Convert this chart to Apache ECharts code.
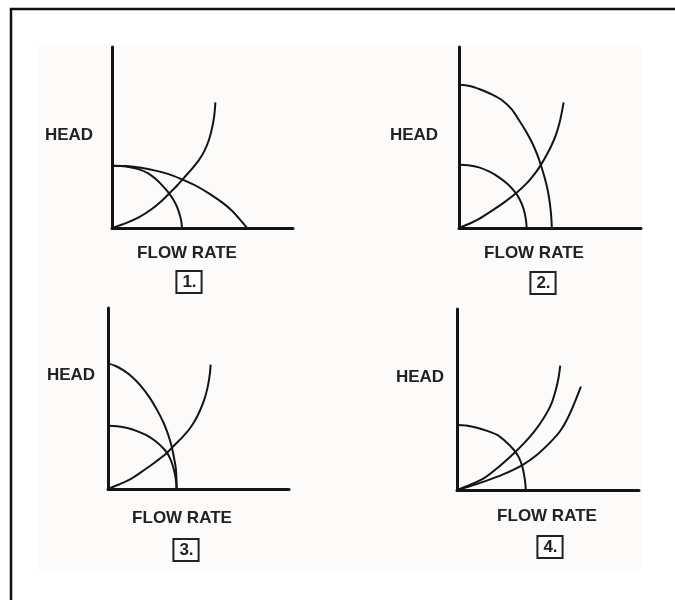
<!DOCTYPE html>
<html>
<head>
<meta charset="utf-8">
<script src="https://cdn.jsdelivr.net/npm/echarts@6/dist/echarts.min.js"></script>
<style>html,body{margin:0;padding:0;background:#fff;}#c{width:675px;height:600px;}</style>
</head>
<body>
<div id="c"></div>
<script>
// ---- data (axes 0..10 in both directions) ----
const yAxisLabel = 'HEAD';
const xAxisLabel = 'FLOW RATE';
const panelNumbers = ['1.', '2.', '3.', '4.'];

const p1PumpA  = [[0,3.44],[0.5,3.42],[1.0,3.36],[1.5,3.24],[2.0,3.02],[2.4,2.72],[2.8,2.33],[3.1,1.98],[3.4,1.55],[3.6,1.15],[3.75,0.7],[3.83,0.35],[3.87,0]];
const p1PumpB  = [[0,3.44],[0.8,3.42],[1.6,3.33],[2.4,3.17],[3.2,2.95],[4.0,2.63],[4.8,2.25],[5.5,1.82],[6.1,1.40],[6.6,0.98],[7.0,0.55],[7.3,0.2],[7.46,0]];
const p1System = [[0,0],[0.8,0.28],[1.5,0.6],[2.2,1.05],[2.8,1.55],[3.2,1.95],[3.6,2.35],[4.0,2.8],[4.4,3.25],[4.8,3.75],[5.1,4.25],[5.35,4.85],[5.5,5.4],[5.62,6.0],[5.68,6.5],[5.71,6.94]];

const p2PumpSmall = [[0,3.5],[0.5,3.47],[1.1,3.35],[1.7,3.1],[2.2,2.8],[2.7,2.4],[3.1,1.95],[3.35,1.55],[3.55,1.05],[3.67,0.5],[3.72,0]];
const p2PumpLarge = [[0,7.92],[0.6,7.85],[1.1,7.68],[1.8,7.38],[2.4,7.03],[2.9,6.55],[3.3,5.95],[3.7,5.3],[4.05,4.64],[4.3,4.05],[4.51,3.44],[4.7,2.8],[4.88,2.06],[5.0,1.3],[5.07,0.6],[5.10,0]];
const p2System    = [[0,0],[0.6,0.25],[1.1,0.5],[1.8,0.95],[2.5,1.43],[3.13,1.92],[3.7,2.45],[4.2,3.05],[4.51,3.5],[4.85,4.1],[5.1,4.6],[5.34,5.19],[5.52,5.8],[5.65,6.4],[5.75,6.94]];

const p3PumpSmall = [[0,3.5],[0.5,3.47],[1.07,3.37],[1.6,3.2],[2.17,2.95],[2.65,2.62],[3.09,2.21],[3.35,1.85],[3.55,1.38],[3.7,0.8],[3.77,0.35],[3.79,0]];
const p3PumpTall  = [[0,6.94],[0.45,6.78],[0.88,6.54],[1.35,6.18],[1.80,5.71],[2.3,5.05],[2.73,4.33],[3.05,3.7],[3.28,3.13],[3.45,2.6],[3.55,2.21],[3.65,1.7],[3.74,1.20],[3.78,0.6],[3.79,0]];
const p3System    = [[0,0],[0.6,0.25],[1.25,0.55],[2.0,1.05],[2.7,1.55],[3.19,1.93],[3.55,2.30],[4.1,2.85],[4.57,3.41],[4.95,4.05],[5.30,4.88],[5.5,5.6],[5.62,6.3],[5.67,6.87]];

const p4Pump    = [[0,3.59],[0.5,3.56],[1.10,3.44],[1.7,3.25],[2.21,3.04],[2.7,2.65],[3.13,2.21],[3.4,1.8],[3.59,1.29],[3.7,0.75],[3.76,0.3],[3.78,0]];
const p4SystemA = [[0,0],[0.7,0.28],[1.47,0.64],[2.3,1.28],[3.13,2.03],[3.7,2.6],[4.24,3.22],[4.75,3.95],[5.16,4.70],[5.42,5.5],[5.58,6.2],[5.67,6.87]];
const p4SystemB = [[0,0],[0.7,0.2],[1.47,0.46],[2.5,0.85],[3.59,1.38],[4.4,1.95],[5.16,2.67],[5.7,3.3],[6.08,3.96],[6.45,4.8],[6.81,5.71]];

const panelSeries = [
  [p1PumpA, p1PumpB, p1System],
  [p2PumpSmall, p2PumpLarge, p2System],
  [p3PumpSmall, p3PumpTall, p3System],
  [p4Pump, p4SystemA, p4SystemB]
];

// ---- layout ----
const grids = [
  {left:112, top:47,  width:181, height:181},
  {left:459, top:47,  width:182, height:181},
  {left:108, top:308, width:181, height:181},
  {left:457, top:309, width:182, height:181}
];
const headPos  = [[69,135],[414,135],[71,375],[420,377]];
const flowPos  = [[187,253],[534,253],[182,518],[547,516]];
const boxPos   = [[189,282],[543,283],[186,550],[550,547]];

const ink = '#141414';
const axisCommon = {
  type:'value', min:0, max:10,
  axisLine:{show:true, onZero:false, lineStyle:{color:ink, width:3}},
  axisTick:{show:false}, axisLabel:{show:false}, splitLine:{show:false}
};

const xAxes = grids.map((g,i)=>Object.assign({gridIndex:i, position:'bottom'}, axisCommon));
const yAxes = grids.map((g,i)=>Object.assign({gridIndex:i, position:'left'}, axisCommon));

const series = [];
panelSeries.forEach((list,i)=>{
  list.forEach(d=>{
    series.push({
      type:'line', xAxisIndex:i, yAxisIndex:i, data:d,
      smooth:0.3, showSymbol:false, clip:false, silent:true,
      lineStyle:{color:ink, width:2}
    });
  });
});

const font = '"Liberation Sans", Arial, sans-serif';
const graphics = [
  {type:'rect', shape:{x:37, y:45, width:605, height:526}, style:{fill:'#fcfbf9'}, z:-10},
  {type:'line', shape:{x1:10, y1:9, x2:675, y2:9}, style:{stroke:'#111', lineWidth:2.5}},
  {type:'line', shape:{x1:11, y1:8, x2:11, y2:600}, style:{stroke:'#111', lineWidth:2.5}}
];
for (let i=0;i<4;i++){
  graphics.push({type:'text', x:headPos[i][0], y:headPos[i][1],
    style:{text:yAxisLabel, fill:'#222', font:'bold 17px '+font, align:'center', verticalAlign:'middle'}});
  graphics.push({type:'text', x:flowPos[i][0], y:flowPos[i][1],
    style:{text:xAxisLabel, fill:'#222', font:'bold 17px '+font, align:'center', verticalAlign:'middle'}});
  graphics.push({type:'text', x:boxPos[i][0], y:boxPos[i][1],
    style:{text:panelNumbers[i], fill:'#222', font:'bold 17px '+font, align:'center', verticalAlign:'middle',
      borderColor:'#222', borderWidth:2, padding:[2,4,1,5], backgroundColor:'#fff'}});
}

const chart = echarts.init(document.getElementById('c'), null, {renderer:'canvas'});
chart.setOption({
  animation:false,
  backgroundColor:'#ffffff',
  grid: grids,
  xAxis: xAxes,
  yAxis: yAxes,
  series: series,
  graphic: graphics
});
</script>
</body>
</html>
